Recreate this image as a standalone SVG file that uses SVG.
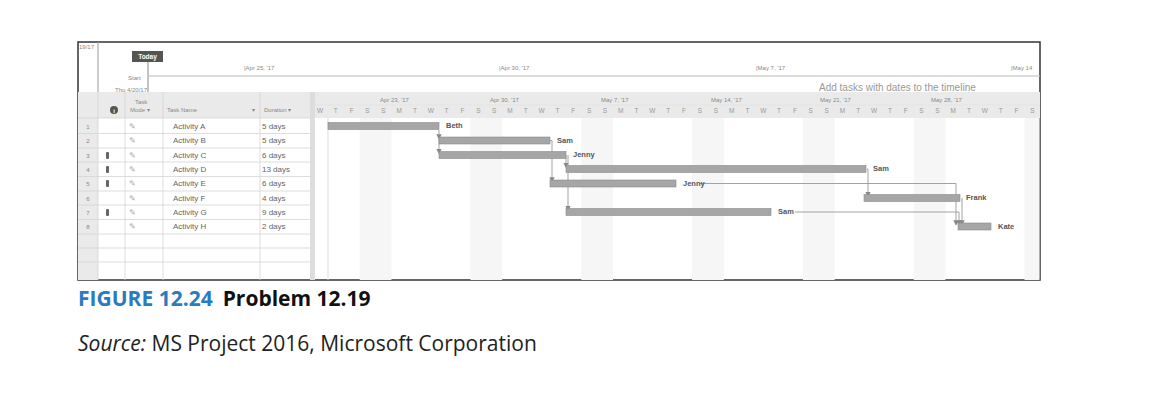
<svg xmlns="http://www.w3.org/2000/svg" width="1172" height="408" viewBox="0 0 1172 408">
<style>
text{font-family:"Liberation Sans",Arial,sans-serif}
.s{font-size:6px;fill:#888}
.d{font-size:6.5px;fill:#999;text-anchor:middle}
.t{font-size:8px;fill:#666}
.g{stroke:#d4d4d4;stroke-width:0.8}
.bar{fill:#a6a6a6;stroke:#8a8a8a;stroke-width:0.6}
.lab{font-size:7.5px;font-weight:bold;fill:#555}
.ln{fill:none;stroke:#999;stroke-width:0.9}
.we{fill:#f6f6f6}
.cap{font-family:"Open Sans","Noto Sans",sans-serif;font-size:21px}
</style>
<defs><marker id="a" markerWidth="6" markerHeight="6" refX="3" refY="3" orient="auto"><path d="M0,0 L6,3 L0,6z" fill="#888"/></marker></defs>
<rect x="78" y="42" width="962" height="238" fill="#fff" stroke="#333" stroke-width="1.5"/>
<g id="timeline">
<line x1="98" y1="42" x2="98" y2="92" stroke="#999"/>
<text x="79" y="49" class="s">19/17</text>
<rect x="132" y="51" width="31" height="11" fill="#555"/>
<text x="147.5" y="59" font-size="6.5" fill="#fff" text-anchor="middle" font-weight="bold">Today</text>
<line x1="148" y1="62" x2="148" y2="92" stroke="#888"/>
<text x="128" y="80" class="s">Start</text>
<text x="115" y="92" class="s">Thu 4/20/17</text>
<line x1="148" y1="76" x2="1040" y2="76" stroke="#bbb" stroke-width="1.2"/>
<g class="s"><text x="244" y="70">|Apr 25, '17</text><text x="499" y="70">|Apr 30, '17</text><text x="756" y="70">|May 7, '17</text><text x="1011" y="70">|May 14</text></g>
<text x="819" y="91" font-size="10" fill="#999">Add tasks with dates to the timeline</text>
</g>
<g id="table">
<rect x="78" y="92" width="962" height="26" fill="#eaeaea"/>
<rect x="78" y="118" width="20" height="162" fill="#eaeaea"/>
<rect x="310" y="92" width="5" height="188" fill="#ddd"/>
<g class="g">
<line x1="98" y1="92" x2="98" y2="280"/><line x1="125" y1="92" x2="125" y2="280"/><line x1="163" y1="92" x2="163" y2="280"/><line x1="260" y1="92" x2="260" y2="280"/>
<line x1="78" y1="118" x2="310" y2="118"/><line x1="78" y1="133.5" x2="310" y2="133.5"/><line x1="78" y1="148" x2="310" y2="148"/><line x1="78" y1="162" x2="310" y2="162"/><line x1="78" y1="176.5" x2="310" y2="176.5"/><line x1="78" y1="191" x2="310" y2="191"/><line x1="78" y1="205" x2="310" y2="205"/><line x1="78" y1="219.5" x2="310" y2="219.5"/><line x1="78" y1="234" x2="310" y2="234"/><line x1="78" y1="248" x2="310" y2="248"/><line x1="78" y1="262" x2="310" y2="262"/>
</g>
<circle cx="114" cy="110" r="4" fill="#555"/><text x="114" y="112.5" font-size="6" font-weight="bold" fill="#fff" text-anchor="middle">i</text>
<text x="135" y="104" class="s">Task</text><text x="130" y="112" class="s">Mode ▾</text>
<text x="167" y="112" class="s">Task Name</text><text x="252" y="112" class="s">▾</text>
<text x="264" y="112" class="s">Duration  ▾</text>
<g class="s" text-anchor="middle"><text x="88" y="129">1</text><text x="88" y="143">2</text><text x="88" y="158">3</text><text x="88" y="172">4</text><text x="88" y="186">5</text><text x="88" y="201">6</text><text x="88" y="215">7</text><text x="88" y="229">8</text></g>
<g fill="#666"><rect x="106" y="152" width="3" height="7" rx="1"/><rect x="106" y="166" width="3" height="7" rx="1"/><rect x="106" y="180" width="3" height="7" rx="1"/><rect x="106" y="209" width="3" height="7" rx="1"/></g>
<g font-size="8" fill="#aaa" text-anchor="middle"><text x="132" y="129">✎</text><text x="132" y="143">✎</text><text x="132" y="158">✎</text><text x="132" y="172">✎</text><text x="132" y="186">✎</text><text x="132" y="201">✎</text><text x="132" y="215">✎</text><text x="132" y="229">✎</text></g>
<g class="t"><text x="173" y="129">Activity A</text><text x="173" y="143">Activity B</text><text x="173" y="158">Activity C</text><text x="173" y="172">Activity D</text><text x="173" y="186">Activity E</text><text x="173" y="201">Activity F</text><text x="173" y="215">Activity G</text><text x="173" y="229">Activity H</text>
<text x="262" y="129">5 days</text><text x="262" y="143">5 days</text><text x="262" y="158">6 days</text><text x="262" y="172">13 days</text><text x="262" y="186">6 days</text><text x="262" y="201">4 days</text><text x="262" y="215">9 days</text><text x="262" y="229">2 days</text></g>
</g>
<g id="chart">
<rect class="we" x="359.7" y="118" width="31.7" height="162"/><rect class="we" x="470.5" y="118" width="31.7" height="162"/><rect class="we" x="581.3" y="118" width="31.7" height="162"/><rect class="we" x="692.1" y="118" width="31.7" height="162"/><rect class="we" x="802.9" y="118" width="31.7" height="162"/><rect class="we" x="913.7" y="118" width="31.7" height="162"/><rect class="we" x="1024.5" y="118" width="15" height="162"/>
<line x1="328" y1="118" x2="328" y2="280" stroke="#ddd"/>
<line x1="315" y1="105" x2="1040" y2="105" stroke="#ddd" stroke-width="0.5"/>
<g class="s"><text x="380" y="102">Apr 23, '17</text><text x="490" y="102">Apr 30, '17</text><text x="601" y="102">May 7, '17</text><text x="711" y="102">May 14, '17</text><text x="820" y="102">May 21, '17</text><text x="931" y="102">May 28, '17</text></g>
<g class="d"><text x="320" y="113">W</text><text x="335.8" y="113">T</text><text x="351.7" y="113">F</text><text x="367.5" y="113">S</text><text x="383.3" y="113">S</text><text x="399.2" y="113">M</text><text x="415" y="113">T</text><text x="430.8" y="113">W</text><text x="446.6" y="113">T</text><text x="462.5" y="113">F</text><text x="478.3" y="113">S</text><text x="494.1" y="113">S</text><text x="510" y="113">M</text><text x="525.8" y="113">T</text><text x="541.6" y="113">W</text><text x="557.5" y="113">T</text><text x="573.3" y="113">F</text><text x="589.1" y="113">S</text><text x="604.9" y="113">S</text><text x="620.8" y="113">M</text><text x="636.6" y="113">T</text><text x="652.4" y="113">W</text><text x="668.3" y="113">T</text><text x="684.1" y="113">F</text><text x="699.9" y="113">S</text><text x="715.8" y="113">S</text><text x="731.6" y="113">M</text><text x="747.4" y="113">T</text><text x="763.2" y="113">W</text><text x="779.1" y="113">T</text><text x="794.9" y="113">F</text><text x="810.7" y="113">S</text><text x="826.6" y="113">S</text><text x="842.4" y="113">M</text><text x="858.2" y="113">T</text><text x="874.1" y="113">W</text><text x="889.9" y="113">T</text><text x="905.7" y="113">F</text><text x="921.5" y="113">S</text><text x="937.4" y="113">S</text><text x="953.2" y="113">M</text><text x="969" y="113">T</text><text x="984.9" y="113">W</text><text x="1000.7" y="113">T</text><text x="1016.5" y="113">F</text><text x="1032.4" y="113">S</text></g>
</g>
<g id="connectors">
<path class="ln" d="M439,130 V137" marker-end="url(#a)"/>
<path class="ln" d="M439,137 V151.5" marker-end="url(#a)"/>
<path class="ln" d="M550,140.5 H552 V180" marker-end="url(#a)"/>
<path class="ln" d="M566,155 V165.5" marker-end="url(#a)"/>
<path class="ln" d="M568,155 V208.5" marker-end="url(#a)"/>
<path class="ln" d="M867,169 H868 V194.5" marker-end="url(#a)"/>
<path class="ln" d="M700,183.5 H956 V223" marker-end="url(#a)"/>
<path class="ln" d="M795,212 H959 V223" marker-end="url(#a)"/>
<path class="ln" d="M962,198 V223" marker-end="url(#a)"/>
</g>
<g id="bars">
<rect class="bar" x="328" y="122.5" width="111" height="7"/><text class="lab" x="446" y="128">Beth</text>
<rect class="bar" x="439" y="137" width="111" height="7"/><text class="lab" x="557" y="142.5">Sam</text>
<rect class="bar" x="439" y="151.5" width="127" height="7"/><text class="lab" x="573" y="157">Jenny</text>
<rect class="bar" x="566" y="165.5" width="300" height="7"/><text class="lab" x="873" y="171">Sam</text>
<rect class="bar" x="550" y="180" width="126" height="7"/><text class="lab" x="683" y="185.5">Jenny</text>
<rect class="bar" x="864" y="194.5" width="96" height="7"/><text class="lab" x="966" y="200">Frank</text>
<rect class="bar" x="566" y="208.5" width="205" height="7"/><text class="lab" x="778" y="214">Sam</text>
<rect class="bar" x="958" y="223" width="33" height="7"/><text class="lab" x="998" y="228.5">Kate</text>
</g>
<g id="caption">
<text x="78" y="306" class="cap" font-weight="bold"><tspan fill="#2a7bbf">FIGURE 12.24</tspan><tspan fill="#111" dx="10">Problem 12.19</tspan></text>
<text x="78" y="351" class="cap" fill="#222"><tspan font-style="italic">Source:</tspan> MS Project 2016, Microsoft Corporation</text>
</g>
</svg>
